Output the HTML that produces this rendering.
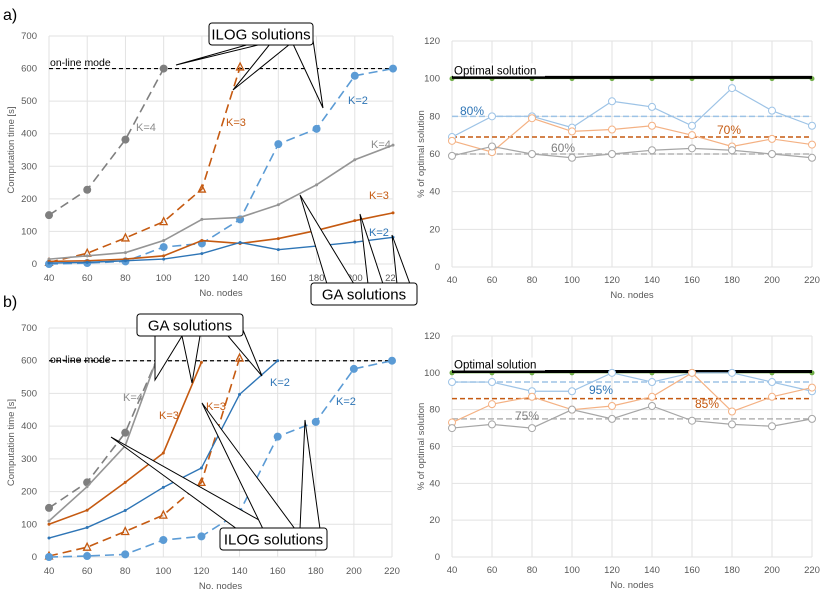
<!DOCTYPE html>
<html><head><meta charset="utf-8"><style>
body{margin:0;background:#fff}
svg{display:block;font-family:"Liberation Sans",sans-serif}
.tk{font-size:9.5px;fill:#595959}
</style></head><body>
<svg id="s" width="840" height="604" viewBox="0 0 840 604" xmlns="http://www.w3.org/2000/svg"></svg>
<script>
const cats=[40,60,80,100,120,140,160,180,200,220];
// chart a
const aIlogK4=[150,228,382,600,null,null,null,null,null,null];
const aIlogK3=[5,33,80,130,230,605,null,null,null,null];
const aIlogK2=[0,3,8,52,63,137,368,415,578,600];
const aGaK4=[15,25,35,72,137,143,182,243,320,365];
const aGaK3=[8,10,15,25,72,63,78,103,133,157];
const aGaK2=[3,5,10,15,32,66,44,55,67,82];
// chart b
const bIlogK4=[150,228,380,650,null,null,null,null,null,null];
const bIlogK3=[3,30,78,128,228,608,null,null,null,null];
const bIlogK2=[0,3,8,52,63,137,368,413,575,600];
const bGaK4=[110,215,340,660,null,null,null,null,null,null];
const bGaK3=[100,143,228,318,595,null,null,null,null,null];
const bGaK2=[58,90,142,213,272,497,600,null,null,null];
// right charts
const cBlue=[69,80,80,74,88,85,75,95,83,75];
const cOrange=[67,61,79,72,73,75,70,64,68,65];
const cGray=[59,64,60,58,60,62,63,62,60,58];
const cAvg=[80,69,60];
const dBlue=[95,95,90,90,100,95,100,100,95,90];
const dOrange=[73,83,87,80,82,87,100,79,87,92];
const dGray=[70,72,70,80,75,82,74,72,71,75];
const dAvg=[95,86,75];
const leftTicks=[0,100,200,300,400,500,600,700];
const rightTicks=[0,20,40,60,80,100,120];

const S=document.getElementById('s');const NS='http://www.w3.org/2000/svg';
function mk(tag,at,parent){const e=document.createElementNS(NS,tag);for(const k in at)e.setAttribute(k,at[k]);(parent||S).appendChild(e);return e;}
function txt(x,y,t,at){const e=mk('text',Object.assign({x:x,y:y},at||{}));e.textContent=t;return e;}
const BLUE='#2e75b6',ORANGE='#c55a11',GRAY='#8c8c8c',LBLUE='#9dc3e6',LOR='#f4b183',LGR='#b4b4b4';

function chart(name,x0,x1,yTop,yBot,ymax,ticks,tickX,xLabY,yTitle,titleX){
  const g=mk('g',{});
  
  
  const X=v=>x0+(v-40)/180*(x1-x0);
  const Y=v=>yBot-v/ymax*(yBot-yTop);
  cats.forEach(c=>{const l=mk('line',{x1:X(c),x2:X(c),y1:yTop,y2:yBot,stroke:'#e2e2e2','stroke-width':1},g);
    
    const t=txt(X(c),xLabY,c,{class:'tk','text-anchor':'middle'});});
  ticks.forEach(v=>{const l=mk('line',{x1:x0,x2:x1,y1:Y(v),y2:Y(v),stroke:'#e2e2e2','stroke-width':1},g);
    
    const t=txt(tickX,Y(v)+3,v,{class:'tk','text-anchor':'end'});});
  const xt=txt((x0+x1)/2,xLabY+15,'No. nodes',{class:'tk','font-size':'10px','text-anchor':'middle'});
  
  const yt=txt(0,0,yTitle,{class:'tk','font-size':'9px','text-anchor':'middle',transform:`translate(${titleX},${(yTop+yBot)/2}) rotate(-90)`});
  
  return {X,Y,g};
}
function series(ch,vals,col,w,dash,marker,name,clipY){
  const pts=[];vals.forEach((v,i)=>{if(v!==null)pts.push([ch.X(cats[i]),ch.Y(v)]);});
  const p=mk('polyline',{points:pts.map(p=>p.join(',')).join(' '),fill:'none',stroke:col,'stroke-width':w,'stroke-dasharray':dash||'none'});
  
  if(clipY!==undefined)p.setAttribute('clip-path','url(#'+clipY+')');
  pts.forEach(q=>{if(clipY!==undefined&&q[1]<ch.Y(600)-1)return;let m;
    if(marker==='dot')m=mk('circle',{cx:q[0],cy:q[1],r:4,fill:col});
    else if(marker==='ring')m=mk('circle',{cx:q[0],cy:q[1],r:3.5,fill:'#fff',stroke:col,'stroke-width':1});
    else if(marker==='tri')m=mk('path',{d:`M${q[0]-3.5},${q[1]+3} L${q[0]},${q[1]-4} L${q[0]+3.5},${q[1]+3} Z`,fill:'none',stroke:col,'stroke-width':1.3});
    else if(marker==='small')m=mk('circle',{cx:q[0],cy:q[1],r:1.5,fill:col});
    else if(marker==='green')m=mk('circle',{cx:q[0],cy:q[1],r:2.5,fill:'#70ad47'});
    if(m){}});
}
function label(x,y,t,col,name,size){const e=txt(x,y,t,{fill:col,'font-size':(size||11)+'px'});return e;}
function hline(ch,v,col,w,dash,name){const l=mk('line',{x1:ch.X(40),x2:ch.X(220),y1:ch.Y(v),y2:ch.Y(v),stroke:col,'stroke-width':w,'stroke-dasharray':dash});}

const defs=mk('defs',{});
const cp=mk('clipPath',{id:'clipb'},defs);mk('rect',{x:0,y:360,width:420,height:250},cp);

// ---- a) left
const A=chart('chart-a-time',49,393,36,264,700,leftTicks,37,281,'Computation time [s]',14);
hline(A,600,'#000',1.2,'4,3','online-mode-line');
series(A,aIlogK4,'#7f7f7f',1.6,'9,5','dot','a-ilog-k4');
series(A,aIlogK3,ORANGE,1.6,'9,5','tri','a-ilog-k3');
series(A,aIlogK2,'#5b9bd5',1.6,'9,5','dot','a-ilog-k2');
series(A,aGaK4,'#959595',1.6,null,'small','a-ga-k4');
series(A,aGaK3,ORANGE,1.6,null,'small','a-ga-k3');
series(A,aGaK2,BLUE,1.4,null,'small','a-ga-k2');
label(50,66,'on-line mode','#000','online-mode-label',10.5);
label(136,131,'K=4',GRAY,'a-ilog-k4-label');
label(226,126,'K=3',ORANGE,'a-ilog-k3-label');
label(348,104,'K=2',BLUE,'a-ilog-k2-label');
label(371,148,'K=4',GRAY,'a-ga-k4-label');
label(369,199,'K=3',ORANGE,'a-ga-k3-label');
label(369,236,'K=2',BLUE,'a-ga-k2-label');

function callout(name,bx,by,bw,bh,text,ptrs){
  const g=mk('g',{});
  ptrs.forEach(p=>mk('polygon',{points:`${p[0]},${p[1]} ${p[2]},${p[3]} ${p[4]},${p[5]}`,fill:'#fff',stroke:'#000','stroke-width':1},g));
  mk('rect',{x:bx,y:by,width:bw,height:bh,rx:3,fill:'#fff',stroke:'#000','stroke-width':1},g);
  const t=txt(bx+bw/2,by+bh/2+5.5,text,{'font-size':'15px','text-anchor':'middle',fill:'#000'});g.appendChild(t);
}
callout('a-ilog-callout',209,23,104,22,'ILOG solutions',[[250,44,262,44,176,65],[270,44,290,44,233,90],[293,44,313,40,323,108]]);
callout('a-ga-callout',311,283,106,22,'GA solutions',[[327,284,354,284,300,195],[368,284,383,284,360,214],[397,284,410,284,392,235]]);

// ---- b) left
const B=chart('chart-b-time',49,392,328,557,700,leftTicks,37,574,'Computation time [s]',14);
hline(B,600,'#000',1.2,'4,3','online-mode-line-b');
series(B,bIlogK4,'#7f7f7f',1.6,'9,5','dot','b-ilog-k4','clipb');
series(B,bGaK4,'#959595',1.6,null,'small','b-ga-k4','clipb');
series(B,bIlogK3,ORANGE,1.6,'9,5','tri','b-ilog-k3');
series(B,bIlogK2,'#5b9bd5',1.6,'9,5','dot','b-ilog-k2');
series(B,bGaK3,ORANGE,1.6,null,'small','b-ga-k3');
series(B,bGaK2,BLUE,1.4,null,'small','b-ga-k2');
label(50,363,'on-line mode','#000','online-mode-label-b',10.5);
label(123,401,'K=4',GRAY,'b-k4-label');
label(159,419,'K=3',ORANGE,'b-ga-k3-label');
label(206,410,'K=3',ORANGE,'b-ilog-k3-label');
label(270,386,'K=2',BLUE,'b-ga-k2-label');
label(336,405,'K=2',BLUE,'b-ilog-k2-label');
callout('b-ga-callout',137,314,106,22,'GA solutions',[[155,336,182,336,155,380],[182,336,200,336,192,383],[228,336,243,330,262,376]]);
callout('b-ilog-callout',220,528,107,22,'ILOG solutions',[[237,529,275,529,111,437],[263,529,295,529,202,403],[300,529,320,529,305,420]]);

// ---- right charts
function right(name,yTop,yBot,xLabY,bl,or,gr,avg,labs){
  const C=chart(name,452,812,yTop,yBot,120,rightTicks,440,xLabY,'% of optimal solution',424);
  series(C,[100,100,100,100,100,100,100,100,100,100],'#70ad47',1,'none','green',name+'-optimal-dots');
  hline(C,100.7,'#000',3,'none',name+'-optimal-line');
  hline(C,avg[0],LBLUE,1.5,'6,3',name+'-blue-avg');
  hline(C,avg[1],'#c55a11',1.5,'5,3',name+'-orange-avg');
  hline(C,avg[2],LGR,1.5,'6,3',name+'-gray-avg');
  series(C,bl,LBLUE,1.2,null,'ring',name+'-blue-series');
  series(C,or,LOR,1.2,null,'ring',name+'-orange-series');
  series(C,gr,'#a6a6a6',1.2,null,'ring',name+'-gray-series');
  const r=mk('rect',{x:453,y:C.Y(100.7)-14,width:92,height:13,fill:'#fff'});
  
  label(454,C.Y(100.7)-3,'Optimal solution','#000',name+'-optimal-label',11.5);
  labs.forEach(l=>label(l[0],l[1],l[2],l[3],name+'-pct-label',12));
}
right('chart-a-quality',41,267,283,cBlue,cOrange,cGray,cAvg,[[460,115,'80%',BLUE],[717,134,'70%',ORANGE],[551,152,'60%','#7f7f7f']]);
right('chart-b-quality',336,557,573,dBlue,dOrange,dGray,dAvg,[[589,394,'95%',BLUE],[695,408,'85%',ORANGE],[515,420,'75%','#7f7f7f']]);

label(3,20,'a)','#000','panel-a-label',16);
label(3,307,'b)','#000','panel-b-label',16);
</script>
</body></html>
